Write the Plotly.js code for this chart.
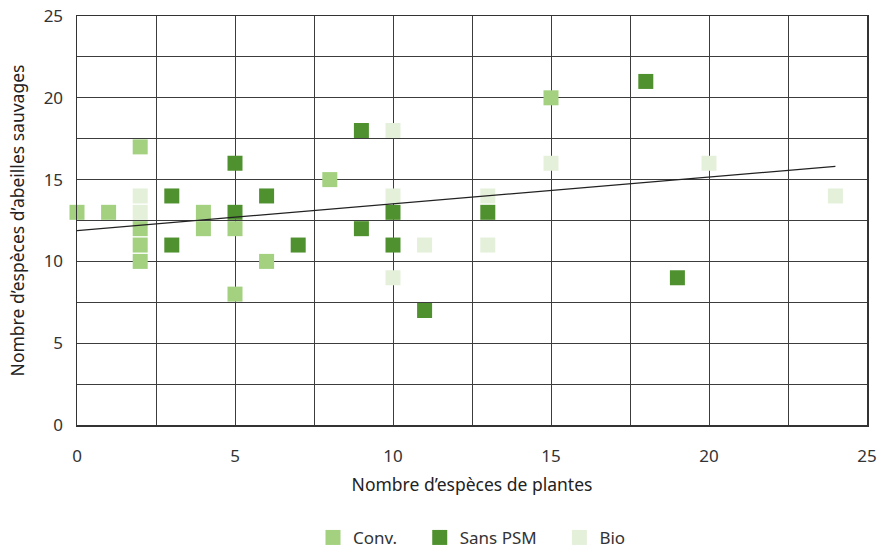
<!DOCTYPE html>
<html>
<head>
<meta charset="utf-8">
<script src="https://cdn.plot.ly/plotly-3.0.1.min.js"></script>
<style>html,body{margin:0;padding:0;background:#fff;}#chart{width:877px;height:548px;}</style>
</head>
<body>
<div id="chart"></div>
<script>
const seriesNames = ["Conv.", "Sans PSM", "Bio"];
const convX = [0, 1, 2, 2, 2, 2, 4, 4, 5, 5, 6, 8, 15];
const convY = [13, 13, 17, 12, 11, 10, 13, 12, 12, 8, 10, 15, 20];
const sansX = [3, 3, 5, 5, 6, 7, 9, 9, 10, 10, 11, 13, 18, 19];
const sansY = [14, 11, 16, 13, 14, 11, 18, 12, 13, 11, 7, 13, 21, 9];
const bioX = [2, 2, 10, 10, 10, 11, 13, 13, 15, 20, 24];
const bioY = [14, 13, 18, 14, 9, 11, 14, 11, 16, 16, 14];
const trendX = [0, 24];
const trendY = [11.88, 15.81];

const colors = ["#a3d17f", "#4f912f", "#e4f0da"];
const font = "Noto Sans, Open Sans, sans-serif";
const pad = "\u00a0\u00a0\u00a0\u00a0";

function pts(name, x, y, c) {
  return {type: "scatter", mode: "markers", name: name, x: x, y: y, cliponaxis: false,
    marker: {symbol: "square", size: 15, color: c, line: {width: 0}}, hoverinfo: "x+y"};
}
const data = [
  pts(seriesNames[0] + pad, convX, convY, colors[0]),
  pts(seriesNames[1] + pad, sansX, sansY, colors[1]),
  pts(seriesNames[2], bioX, bioY, colors[2]),
  {type: "scatter", mode: "lines", x: trendX, y: trendY, showlegend: false,
   line: {color: "#222", width: 1.3}, hoverinfo: "skip"}
];
const gridCol = "#3c3c3c";
const layout = {
  width: 877, height: 548,
  margin: {l: 77, r: 10, t: 16, b: 123, autoexpand: false},
  paper_bgcolor: "#fff", plot_bgcolor: "#fff",
  font: {family: font, size: 16, color: "#333"},
  showlegend: true,
  legend: {orientation: "h", x: 0.5, xanchor: "center", y: -0.276, yanchor: "middle",
           font: {family: font, size: 17, color: "#333"}},
  xaxis: {range: [0, 25], dtick: 5, tick0: 0, showgrid: true, gridcolor: gridCol, gridwidth: 1,
          minor: {dtick: 2.5, showgrid: true, gridcolor: gridCol, gridwidth: 1},
          showline: true, linecolor: "#333", linewidth: 1.5, mirror: true, zeroline: false,
          ticks: "", ticklabelstandoff: 15, tickfont: {size: 17, color: "#333"},
          title: {text: "Nombre d’espèces de plantes", font: {size: 17.5, color: "#222"}, standoff: 13},
          fixedrange: true},
  yaxis: {range: [0, 25], dtick: 5, tick0: 0, showgrid: true, gridcolor: gridCol, gridwidth: 1,
          minor: {dtick: 2.5, showgrid: true, gridcolor: gridCol, gridwidth: 1},
          showline: true, linecolor: "#333", linewidth: 1.5, mirror: true, zeroline: false,
          ticks: "", ticklabelstandoff: 9, tickfont: {size: 17, color: "#333"},
          title: {text: "Nombre d’espèces d’abeilles sauvages", font: {size: 17.5, color: "#222"}, standoff: 14},
          fixedrange: true}
};
Plotly.newPlot("chart", data, layout, {displayModeBar: false, staticPlot: true});
</script>
</body>
</html>
